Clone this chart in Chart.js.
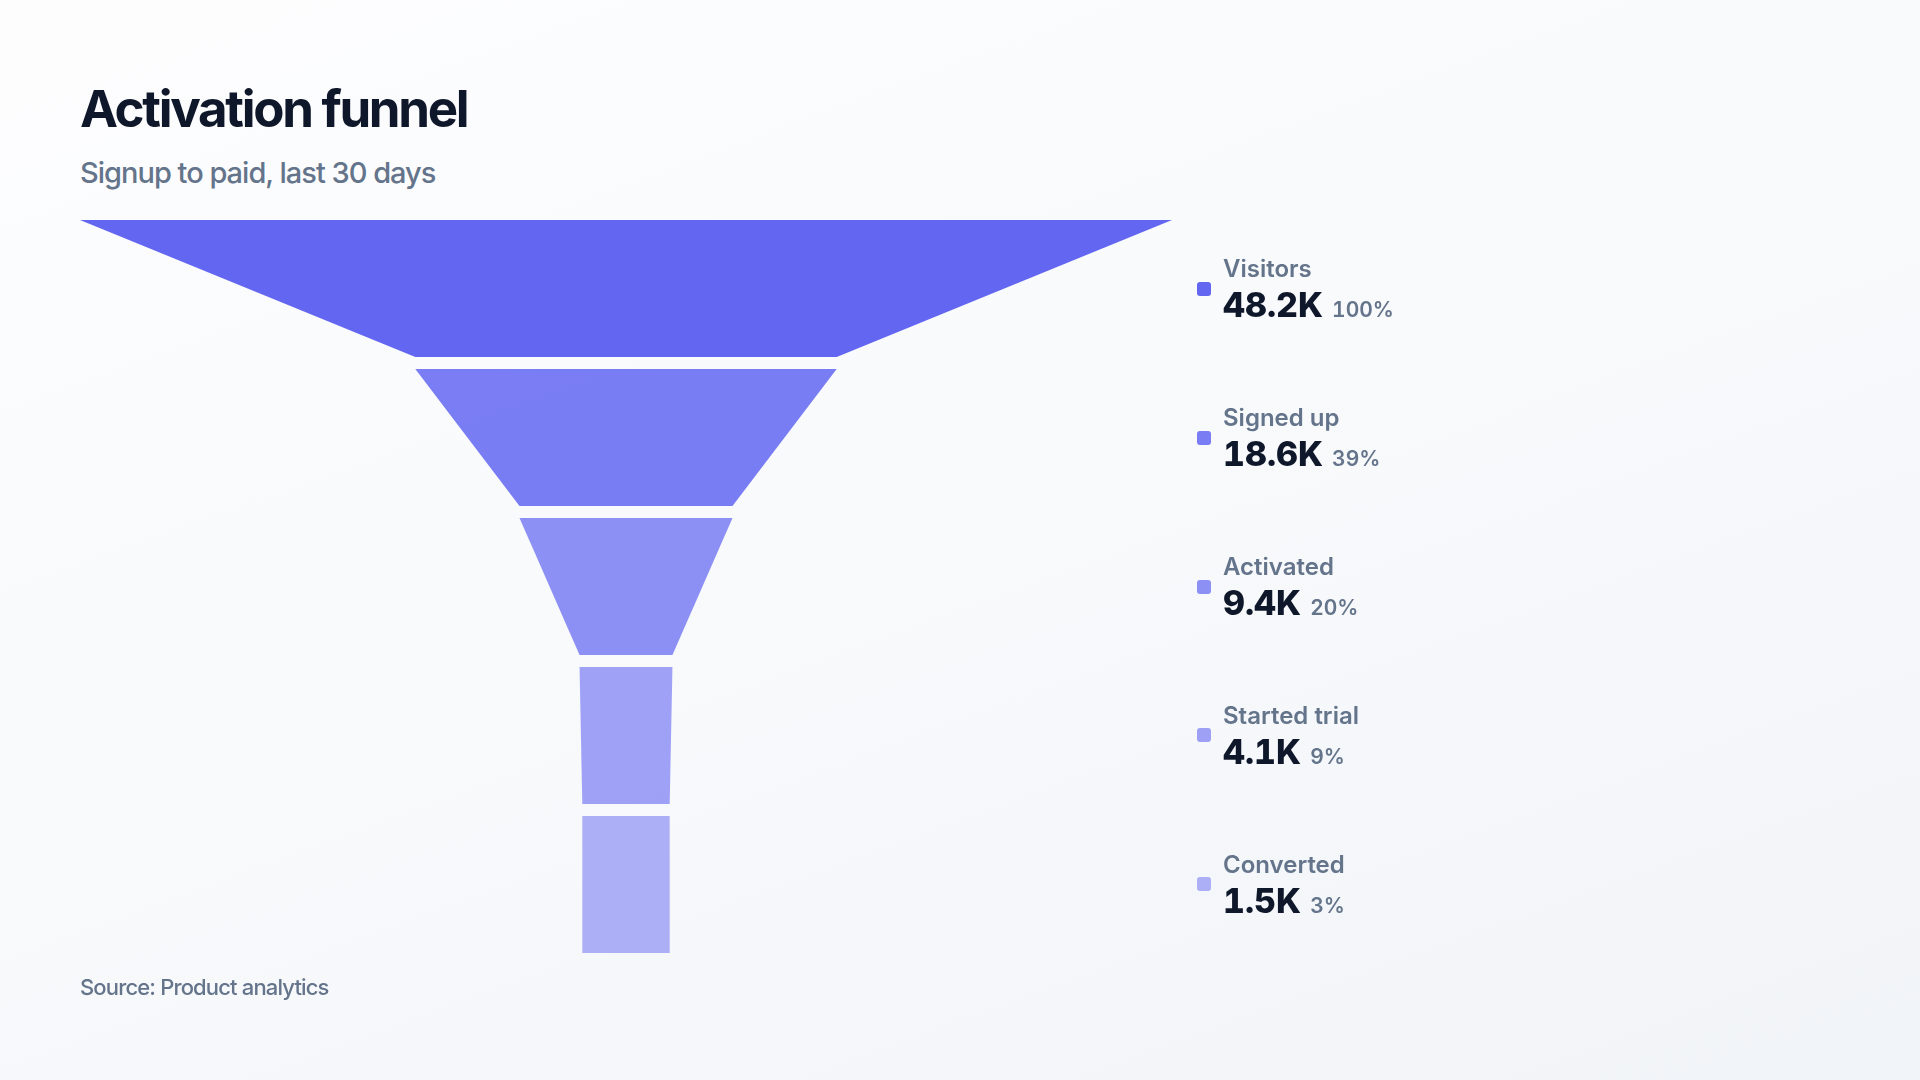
<!DOCTYPE html>
<html>
<head>
<meta charset="utf-8">
<title>Activation funnel</title>
<script src="https://cdn.jsdelivr.net/npm/chart.js@4.4.1/dist/chart.umd.min.js"></script>
<style>
    html, body {
        margin: 0;
        padding: 0;
        width: 1920px;
        height: 1080px;
        overflow: hidden;
        font-family: Inter, "Noto Sans", sans-serif;
        background: linear-gradient(160deg, #fdfdfe 0%, #f7f9fb 55%, #f1f4f8 100%);
    }
    .title {
        position: absolute;
        left: 80px;
        top: 83px;
        margin: 0;
        font-size: 51px;
        line-height: 1;
        font-weight: 700;
        letter-spacing: -2.3px;
        color: #0f172a;
    }
    .subtitle {
        position: absolute;
        left: 80px;
        top: 158px;
        margin: 0;
        font-size: 29px;
        line-height: 1;
        font-weight: 500;
        letter-spacing: -1px;
        color: #64748b;
    }
    .source {
        position: absolute;
        left: 80px;
        top: 976px;
        margin: 0;
        font-size: 22px;
        line-height: 1;
        font-weight: 500;
        letter-spacing: -0.85px;
        color: #64748b;
    }
    #chart-wrap {
        position: absolute;
        left: 0;
        top: 0;
        width: 1920px;
        height: 1080px;
    }
    .legend-marker {
        position: absolute;
        width: 14px;
        height: 14px;
        border-radius: 3px;
    }
    .legend-label {
        position: absolute;
        font-size: 24px;
        line-height: 1;
        font-weight: 600;
        color: #64748b;
        white-space: nowrap;
    }
    .legend-value-row {
        position: absolute;
        display: flex;
        align-items: baseline;
        line-height: 1;
        white-space: nowrap;
        font-variant-numeric: tabular-nums;
    }
    .legend-value {
        font-size: 34px;
        font-weight: 800;
        color: #0f172a;
    }
    .legend-share {
        font-size: 21px;
        font-weight: 600;
        color: #64748b;
        margin-left: 9px;
    }
</style>
</head>
<body>
<h1 class="title">Activation funnel</h1>
<p class="subtitle">Signup to paid, last 30 days</p>
<div id="chart-wrap"><canvas id="chart-funnel"></canvas></div>
<div id="legend"></div>
<p class="source">Source: Product analytics</p>

<script>
// Funnel data (counts in thousands)
const stages = ["Visitors", "Signed up", "Activated", "Started trial", "Converted"];
const counts = [48.2, 18.6, 9.4, 4.1, 1.5];
const shares = [100, 39, 20, 9, 3];

const baseColor = [99, 102, 241];
const stageAlpha = [1, 0.85, 0.72, 0.6, 0.5];

// Layout bits
const SEGMENT_GAP = 0.08;   // gap between stages, in stage units
const MIN_WIDTH = 0.08;     // narrowest drawn width, as share of the top stage

const maxCount = Math.max(...counts);

function stageColor(i) {
    return `rgba(${baseColor.join(", ")}, ${stageAlpha[i]})`;
}

function halfWidth(v) {
    return Math.max(v, maxCount * MIN_WIDTH) / 2;
}

// Each stage is a closed trapezoid: top edge = its own count, bottom edge = next count
const datasets = stages.map((name, i) => {
    const top = halfWidth(counts[i]);
    const bottom = i < counts.length - 1 ? halfWidth(counts[i + 1]) : top;
    const y0 = i;
    const y1 = i + 1 - SEGMENT_GAP;
    return {
        label: name,
        data: [
            { x: -top, y: y0 },
            { x: top, y: y0 },
            { x: bottom, y: y1 },
            { x: -bottom, y: y1 }
        ],
        showLine: true,
        fill: "shape",
        tension: 0,
        backgroundColor: stageColor(i),
        borderColor: "rgba(0,0,0,0)",
        borderWidth: 0,
        pointRadius: 0,
        pointHoverRadius: 0,
        clip: false
    };
});

// Stage labels to the right of the funnel, centred on each stage (HTML so text stays text)
function buildLegend(chart) {
    const container = document.getElementById("legend");
    container.innerHTML = "";
    const yScale = chart.scales.y;
    const left = chart.chartArea.right + 25;
    const tx = left + 26;
    const ascent = 0.8635; // Inter baseline offset at line-height 1

    stages.forEach((name, i) => {
        const cy = yScale.getPixelForValue(i + (1 - SEGMENT_GAP) / 2);

        const marker = document.createElement("div");
        marker.className = "legend-marker";
        marker.style.left = `${left}px`;
        marker.style.top = `${cy - 7}px`;
        marker.style.backgroundColor = stageColor(i);
        container.appendChild(marker);

        const label = document.createElement("div");
        label.className = "legend-label";
        label.textContent = name;
        label.style.left = `${tx}px`;
        label.style.top = `${cy - 11 - ascent * 24}px`;
        container.appendChild(label);

        const row = document.createElement("div");
        row.className = "legend-value-row";
        row.style.left = `${tx}px`;
        row.style.top = `${cy + 29 - ascent * 34}px`;
        row.innerHTML = `<span class="legend-value">${counts[i].toFixed(1)}K</span><span class="legend-share">${shares[i]}%</span>`;
        container.appendChild(row);
    });
}

const ctx = document.getElementById("chart-funnel").getContext("2d");
const funnelChart = new Chart(ctx, {
    type: "scatter",
    data: { datasets: datasets },
    options: {
        responsive: true,
        maintainAspectRatio: false,
        animation: false,
        layout: {
            padding: { left: 80, right: 748, top: 220, bottom: 127 }
        },
        scales: {
            x: { type: "linear", display: false, min: -maxCount / 2, max: maxCount / 2 },
            y: { type: "linear", display: false, min: 0, max: stages.length - SEGMENT_GAP, reverse: true }
        },
        plugins: {
            legend: { display: false },
            tooltip: { enabled: false }
        }
    }
});

buildLegend(funnelChart);
</script>
</body>
</html>
